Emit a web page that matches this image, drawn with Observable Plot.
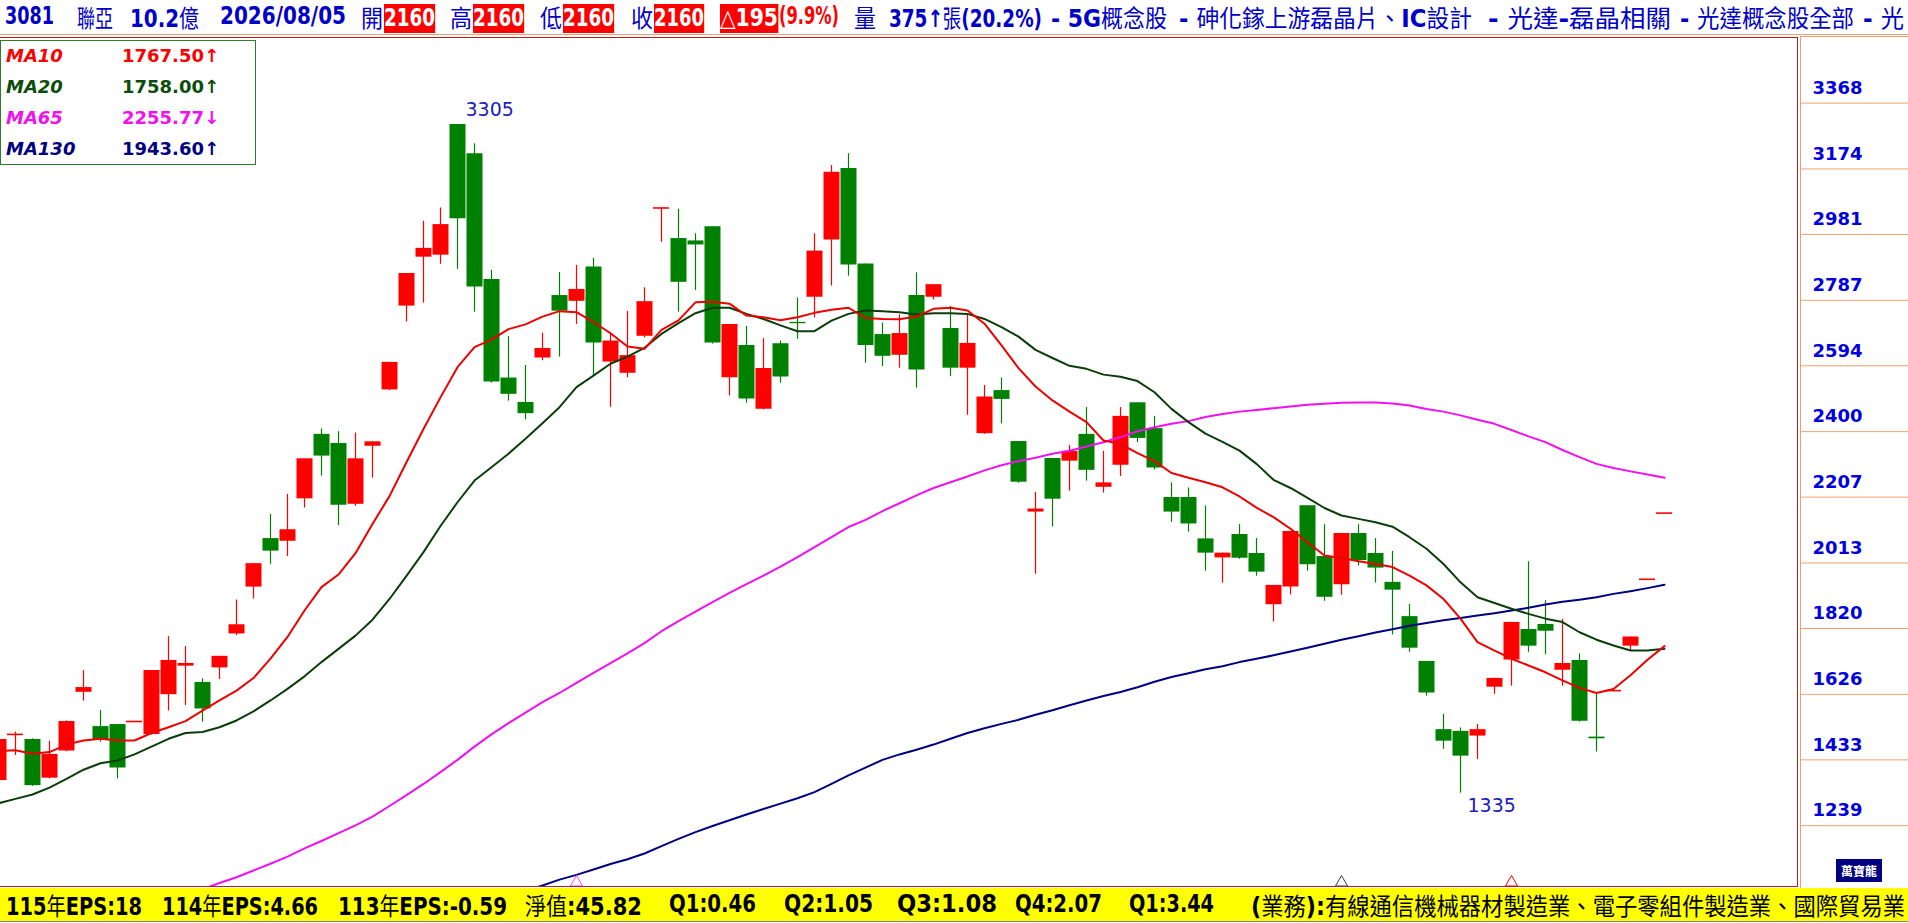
<!DOCTYPE html>
<html><head><meta charset="utf-8">
<script src="https://cdn.jsdelivr.net/npm/d3@7"></script>
<script src="https://cdn.jsdelivr.net/npm/@observablehq/plot@0.6"></script>
<style>
html,body{margin:0;padding:0;background:#fff;}
#root{position:relative;width:1908px;height:923px;overflow:hidden;background:#fff;}
.abs{position:absolute;white-space:nowrap;transform-origin:0 0;}
.hdr{font-family:"DejaVu Sans","Noto Sans CJK TC",sans-serif;font-weight:bold;font-size:24px;line-height:33px;height:33px;color:#0000c8;top:0;}
.box{background:#ff0000;color:#fff;top:4px;height:29px;line-height:29px;}
.redt{color:#ff0000;}
.ftr{font-family:"DejaVu Sans","Noto Sans CJK TC",sans-serif;font-weight:bold;font-size:24px;line-height:33px;height:33px;color:#000;top:888px;}
.cjk{font-family:"Noto Sans CJK TC",sans-serif;font-weight:400;}
#legend{position:absolute;left:0;top:40px;width:254px;height:123px;border:1px solid #2e7d2e;background:#fff;font-family:"DejaVu Sans",sans-serif;font-weight:bold;font-size:18px;}
#legend .row{position:absolute;left:0;width:254px;height:22px;line-height:22px;}
#legend .lab{position:absolute;left:5px;font-style:italic;}
#legend .val{position:absolute;left:121px;}
</style>
</head><body>
<div id="root"></div>
<script>
// ---------------- data ----------------
const open = [1372,1508,1493,1379,1459,1632,1531,1537,1546,1508, 1625,1709,1661,1704,1804,1942,2085,2077,2202,2392,
  2365,2186,2357,2523,2770,2914,2920,3305,3219,2848, 2558,2486,2617,2801,2784,2885,2605,2572,2681,3059,
  2969,2962,3004,2559,2654,2466,2659,2722,2796,2965, 3175,2894,2686,2625,2801,2796,2704,2587,2394,2521,
  2371,2163,2321,2313,2392,2236,2301,2485,2409,2206, 2206,2084,2028,2097,2041,1890,1942,2182,2032,1949,
  2100,2041,1956,1855,1723,1522,1517,1503,1647,1727, 1817,1832,1697,1726,1500,1637,1768,1965,2160];
const high = [1495,1515,1495,1488,1548,1696,1578,1537,1546,1696, 1796,1767,1672,1738,1904,2011,2156,2215,2320,2408,
  2400,2396,2370,2604,2866,3020,3059,3305,3248,2875, 2680,2595,2690,2869,2890,2911,2688,2754,2824,3059,
  3055,2983,3004,2716,2710,2674,2667,2794,2983,3184, 3219,2894,2720,2744,2868,2833,2769,2744,2536,2558,
  2371,2221,2321,2359,2471,2342,2471,2485,2445,2249, 2234,2181,2042,2126,2085,1947,2106,2182,2126,2100,
  2126,2085,2047,1891,1723,1567,1527,1537,1673,1838, 2017,1902,1847,1745,1630,1637,1795,1965,2160];
const low = [1370,1446,1355,1377,1457,1606,1485,1377,1546,1506, 1577,1593,1544,1670,1799,1907,2009,2032,2175,2269,
  2123,2180,2263,2521,2723,2779,2893,2878,2752,2543, 2490,2435,2609,2620,2716,2565,2472,2559,2676,2958,
  2752,2816,2658,2505,2484,2464,2543,2672,2735,2829, 2858,2602,2592,2587,2528,2788,2562,2448,2392,2423,
  2248,1980,2119,2225,2254,2219,2268,2368,2287,2133, 2104,1989,1954,2024,1974,1839,1919,1989,1900,1918,
  2004,1954,1801,1750,1621,1464,1335,1434,1626,1650, 1750,1743,1650,1544,1456,1637,1755,1965,2160];
const close = [1493,1508,1357,1449,1546,1646,1490,1409,1546,1696, 1726,1717,1583,1738,1831,2011,2048,2111,2320,2328,
  2183,2320,2370,2604,2866,2940,3010,3027,2826,2546, 2510,2453,2645,2755,2819,2661,2667,2624,2783,3059,
  2840,2950,2661,2716,2496,2586,2561,2718,2932,3164, 2891,2654,2622,2689,2582,2833,2587,2660,2502,2495,
  2251,2172,2201,2342,2286,2249,2445,2380,2293,2163, 2128,2042,2042,2027,1986,1947,2106,2008,1912,2100,
  2020,1998,1933,1762,1630,1488,1444,1522,1673,1838, 1768,1812,1717,1547,1495,1637,1795,1965,2160];

const ma10 = [1459,1461,1451,1456,1478,1490,1495,1490,1490,1512, 1529,1547,1578,1608,1637,1674,1731,1795,1873,1942,
  1979,2042,2128,2210,2310,2408,2501,2590,2649,2671, 2702,2716,2739,2755,2752,2723,2690,2651,2644,2700,
  2728,2781,2783,2777,2742,2737,2728,2737,2750,2759, 2765,2735,2732,2731,2739,2762,2765,2757,2718,2654,
  2587,2533,2492,2459,2428,2374,2364,2337,2313,2278, 2264,2251,2236,2209,2176,2148,2114,2074,2035,2028,
  2018,2010,2001,1976,1947,1907,1849,1780,1755,1731, 1711,1691,1667,1645,1630,1642,1682,1728,1768];
const ma20 = [1305,1318,1331,1351,1377,1404,1423,1431,1449,1472, 1495,1512,1515,1529,1549,1576,1608,1642,1679,1721,
  1760,1799,1846,1907,1975,2045,2122,2192,2256,2295, 2335,2379,2425,2472,2531,2565,2600,2621,2647,2688,
  2720,2749,2765,2765,2747,2732,2713,2696,2696,2727, 2747,2757,2755,2752,2745,2749,2749,2747,2732,2708,
  2680,2641,2617,2594,2585,2568,2562,2549,2516,2467, 2428,2394,2370,2344,2305,2258,2234,2205,2175,2153,
  2143,2133,2120,2089,2055,2010,1956,1912,1895,1878, 1863,1849,1839,1809,1787,1770,1755,1755,1760];
const ma65 = Array(12).fill(null).concat([
  1052,1070,1087,1107,1127,1148,1172,1194,1217,1240, 1266,1297,1329,1362,1397,1433,1472,1508,1541,1572,
  1603,1630,1660,1689,1718,1747,1777,1812,1842,1870, 1898,1925,1951,1976,2002,2030,2060,2089,2119,2140,
  2166,2189,2212,2234,2251,2268,2286,2301,2313,2323, 2335,2344,2356,2369,2384,2401,2413,2423,2431,2443,
  2452,2459,2464,2469,2474,2479,2482,2485,2486,2486, 2483,2477,2467,2459,2448,2435,2423,2405,2386,2369,
  2346,2325,2305,2293,2283,2274,2264]);
const ma130 = Array(31).fill(null).concat([
  1047,1063,1080,1094,1110,1126,1140,1157,1179,1200, 1220,1238,1255,1272,1288,1304,1320,1338,1362,1387,
  1410,1433,1449,1463,1478,1495,1512,1526,1539,1551, 1566,1579,1594,1608,1621,1633,1647,1663,1677,1688,
  1700,1709,1721,1731,1741,1752,1763,1775,1787,1797, 1808,1818,1828,1836,1844,1851,1858,1865,1873,1881,
  1891,1899,1905,1912,1922,1930,1939,1949]);

const yTicks = [3368,3174,2981,2787,2594,2400,2207,2013,1820,1626,1433,1239];
const highMark = {i: 27, v: 3305};
const lowMark = {i: 86, v: 1335};
const eventIdx = [34, 79, 89];

const legendLabels = ["MA10","MA20","MA65","MA130"];
const legendValues = ["1767.50↑","1758.00↑","2255.77↓","1943.60↑"];

const headerItems = [
  {t:"3081", l:5, r:54}, {t:"聯亞", l:77, r:113}, {t:"10.2億", l:130, r:199}, {t:"2026/08/05", l:220, r:346},
  {t:"開", l:361, r:383}, {t:"2160", l:384, r:435, c:"box"},
  {t:"高", l:450, r:472}, {t:"2160", l:473, r:524, c:"box"},
  {t:"低", l:540, r:562}, {t:"2160", l:563, r:614, c:"box"},
  {t:"收", l:631, r:653}, {t:"2160", l:654, r:704, c:"box"},
  {t:"△195", l:720, r:778, c:"box"}, {t:"(9.9%)", l:779, r:839, c:"redt"},
  {t:"量", l:854, r:876}, {t:"375↑張(20.2%)", l:889, r:1042},
  {t:"- 5G概念股", l:1051, r:1167}, {t:"- 砷化鎵上游磊晶片、IC設計", l:1179, r:1472},
  {t:"- 光達-磊晶相關", l:1488, r:1671}, {t:"- 光達概念股全部", l:1680, r:1854},
  {t:"- 光", l:1863, r:1904}
];
const footerItems = [
  {t:"115年EPS:18", l:6, r:142}, {t:"114年EPS:4.66", l:162, r:318}, {t:"113年EPS:-0.59", l:338, r:507},
  {t:"淨值:45.82", l:525, r:642}, {t:"Q1:0.46", l:669, r:756}, {t:"Q2:1.05", l:784, r:873},
  {t:"Q3:1.08", l:897, r:997}, {t:"Q4:2.07", l:1015, r:1102}, {t:"Q1:3.44", l:1129, r:1214},
  {t:"(業務):有線通信機械器材製造業、電子零組件製造業、國際貿易業", l:1251, r:1905}
];

// ---------------- styles ----------------
const RED = "#ff0000", GREEN = "#008000";
const C10 = "#ee0000", C20 = "#0b3d0b", C65 = "#f010f0", C130 = "#000080";
const eventColors = ["#ff40ff", "#404040", "#ff0000"];
const legendColors = [RED, "#0b4d0b", "#f010f0", "#000080"];

// ---------------- build ----------------
const root = document.getElementById("root");
function div(css){ const d=document.createElement("div"); d.style.cssText="position:absolute;"+css; root.appendChild(d); return d; }
function wrapCjk(s){ return s.replace(/([\u3000-\u303f\u4e00-\u9fff\uff00-\uffef]+)/g,'<span class="cjk">$1</span>'); }
function place(items, cls){
  for (const it of items){
    const s = document.createElement("span");
    s.className = "abs " + cls + (it.c ? " " + it.c : "");
    s.style.left = it.l + "px";
    s.innerHTML = wrapCjk(it.t);
    root.appendChild(s);
    const w = s.getBoundingClientRect().width;
    const k = it.r ? (it.r - it.l) / w : it.sx;
    s.style.transform = `scaleX(${k})`;
  }
}

// header line
div("left:0;top:34px;width:1908px;height:1px;background:#f0a070;");

const rows = open.map((o,k)=>({i:k, open:o, high:high[k], low:low[k], close:close[k],
  ma10:ma10[k], ma20:ma20[k], ma65:ma65[k], ma130:ma130[k]}));
const up = rows.filter(d=>d.close>=d.open), down = rows.filter(d=>d.close<d.open);
const doji = rows.filter(d=>d.close===d.open);

const W = 1798, H = 850;
const xDom = [2/17, 2/17 + W/17];
const yDom = [1056.9, 3561.3];

const chart = Plot.plot({
  width: W, height: H, marginTop:0, marginBottom:0, marginLeft:0, marginRight:0,
  x: {domain: xDom, axis: null},
  y: {domain: yDom, axis: null},
  style: {background:"transparent"},
  marks: [
    Plot.ruleX(up, {x:"i", y1:"low", y2:"high", stroke:RED, strokeWidth:1.2, clip:true}),
    Plot.ruleX(down, {x:"i", y1:"low", y2:"high", stroke:GREEN, strokeWidth:1.2, clip:true}),
    Plot.ruleX(up, {x:"i", y1:"open", y2:"close", stroke:RED, strokeWidth:16, clip:true}),
    Plot.ruleX(down, {x:"i", y1:"open", y2:"close", stroke:GREEN, strokeWidth:16, clip:true}),
    Plot.ruleY(doji, {y:"close", x1:d=>d.i-0.47, x2:d=>d.i+0.47, stroke:RED, strokeWidth:1.6, clip:true}),
    Plot.line(rows, {x:"i", y:"ma130", stroke:C130, strokeWidth:2, clip:true}),
    Plot.line(rows, {x:"i", y:"ma65", stroke:C65, strokeWidth:2, clip:true}),
    Plot.line(rows, {x:"i", y:"ma20", stroke:C20, strokeWidth:2, clip:true}),
    Plot.line(rows, {x:"i", y:"ma10", stroke:C10, strokeWidth:2, clip:true}),
    Plot.text([highMark], {x:"i", y:"v", text:d=>String(d.v), dx:8, dy:-15, textAnchor:"start",
      fill:"#1c1cc0", fontSize:19, fontFamily:"DejaVu Sans"}),
    Plot.text([lowMark], {x:"i", y:"v", text:d=>String(d.v), dx:7, dy:13, textAnchor:"start",
      fill:"#1c1cc0", fontSize:19, fontFamily:"DejaVu Sans"}),
    Plot.dot(eventIdx, {x:d=>d, frameAnchor:"bottom", dy:-5, symbol:"triangle", r:4.5, fill:"none",
      stroke:(d,k)=>eventColors[k], strokeWidth:1})
  ]
});
const cw = div(`left:0;top:37px;width:${W}px;height:${H}px;`);
cw.appendChild(chart);
// plot frame: top, right, bottom
div(`left:0;top:37px;width:${W}px;height:1px;background:#b02020;`);
div(`left:${W-1}px;top:37px;width:1px;height:${H}px;background:#b02020;`);
div(`left:0;top:${37+H-1}px;width:${W}px;height:1px;background:#b02020;`);

// right axis panel
const axis = Plot.plot({
  width: 107, height: H, marginTop:0, marginBottom:0, marginLeft:0, marginRight:0,
  y: {domain: yDom, axis: null},
  style: {background:"transparent"},
  marks: [
    Plot.ruleY(yTicks, {y:d=>d, stroke:"#f0a070", strokeWidth:1}),
    Plot.text(yTicks, {y:d=>d, text:d=>String(d), frameAnchor:"left", dx:11, dy:-15, textAnchor:"start",
      fill:"#0000e0", fontWeight:"bold", fontSize:18, fontFamily:"DejaVu Sans"})
  ]
});
const aw = div(`left:1800px;top:36px;width:107px;height:${H+1}px;border-left:1px solid #f0a070;border-top:1px solid #f0a070;`);
aw.appendChild(axis);

// logo
const logo = div("left:1836px;top:859px;width:46px;height:23px;background:#000080;color:#fff;font:bold 12px 'Noto Sans CJK TC',sans-serif;line-height:23px;text-align:center;");
logo.textContent = "萬寶龍";

// legend
const lg = div("");
lg.id = "legend";
legendLabels.forEach((lab,k)=>{
  const r = document.createElement("div");
  r.className = "row"; r.style.top = (4 + k*31) + "px"; r.style.color = legendColors[k];
  r.innerHTML = `<span class="lab">${lab}</span><span class="val">${legendValues[k]}</span>`;
  lg.appendChild(r);
});

// footer band
div("left:0;top:888px;width:1908px;height:33px;background:#ffff00;");
div("left:0;top:921px;width:1908px;height:1px;background:#808080;");

place(headerItems, "hdr");
place(footerItems, "ftr");
</script>
</body></html>
